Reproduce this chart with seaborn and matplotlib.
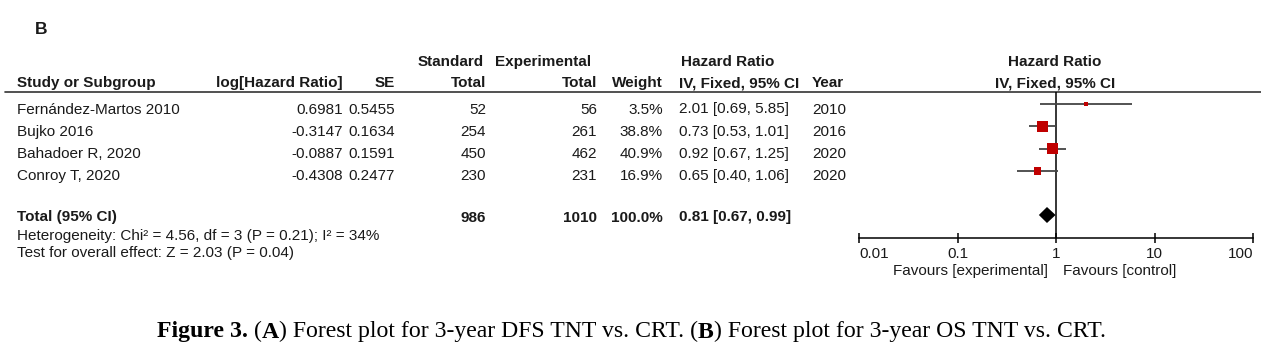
import matplotlib
matplotlib.use("Agg")
import matplotlib.pyplot as plt
from matplotlib.ticker import NullLocator, FixedLocator, FixedFormatter
import seaborn as sns
import pandas as pd

# ---------------- data ----------------
studies = ["Fernández-Martos 2010", "Bujko 2016", "Bahadoer R, 2020", "Conroy T, 2020"]
log_hr = [0.6981, -0.3147, -0.0887, -0.4308]
se = [0.5455, 0.1634, 0.1591, 0.2477]
std_total = [52, 254, 450, 230]
exp_total = [56, 261, 462, 231]
weight = [3.5, 38.8, 40.9, 16.9]
hr = [2.01, 0.73, 0.92, 0.65]
ci_lo = [0.69, 0.53, 0.67, 0.40]
ci_hi = [5.85, 1.01, 1.25, 1.06]
years = [2010, 2016, 2020, 2020]

total_std = 986
total_exp = 1010
total_weight = 100.0
total_hr = 0.81
total_lo = 0.67
total_hi = 0.99

heterogeneity = "Heterogeneity: Chi² = 4.56, df = 3 (P = 0.21); I² = 34%"
overall = "Test for overall effect: Z = 2.03 (P = 0.04)"
tick_vals = [0.01, 0.1, 1, 10, 100]
tick_labels = ["0.01", "0.1", "1", "10", "100"]
fav_left = "Favours [experimental]"
fav_right = "Favours [control]"
caption = [("Figure 3.", "bold"), (" (", "normal"), ("A", "bold"),
           (") Forest plot for 3-year DFS TNT vs. CRT. (", "normal"), ("B", "bold"),
           (") Forest plot for 3-year OS TNT vs. CRT.", "normal")]

# ---------------- layout ----------------
sns.set_theme(style="white")
plt.rcParams["font.family"] = ["Liberation Sans", "DejaVu Sans"]
W, H = 1261, 348
fig = plt.figure(figsize=(W / 100, H / 100), dpi=100)
fig.patch.set_facecolor("white")

TXT = "#1a1a1a"
FS = 11.0

ax_t = fig.add_axes([0, 0, 1, 1])
ax_t.set_xlim(0, W)
ax_t.set_ylim(H, 0)
ax_t.axis("off")

line_y = 92.3
axis_y = 238.3
row0, row_step = 104.0, 22.3
marker_rows = [row0 + i * row_step for i in range(len(studies))]
text_base = [r + 9.5 for r in marker_rows]
total_row = 215.0
total_base = 221.5


def t(x, y, s, ha="left", bold=False, size=FS, **kw):
    ax_t.text(x, y, s, ha=ha, va="baseline", fontsize=size, color=TXT,
              fontweight="bold" if bold else "normal", **kw)


# panel label
t(35, 34, "B", bold=True, size=12.5)

# headers
h1, h2 = 66, 87.3
t(17, h2, "Study or Subgroup", bold=True)
t(343, h2, "log[Hazard Ratio]", ha="right", bold=True)
t(395, h2, "SE", ha="right", bold=True)
t(484, h1, "Standard", ha="right", bold=True)
t(486, h2, "Total", ha="right", bold=True)
t(591, h1, "Experimental", ha="right", bold=True)
t(597, h2, "Total", ha="right", bold=True)
t(663, h2, "Weight", ha="right", bold=True)
t(728, h1, "Hazard Ratio", ha="center", bold=True)
t(679, h2, "IV, Fixed, 95% CI", bold=True)
t(812, h2, "Year", bold=True)
t(1055, h1, "Hazard Ratio", ha="center", bold=True)
t(1055, h2, "IV, Fixed, 95% CI", ha="center", bold=True)
ax_t.plot([5, W], [line_y, line_y], color="#333333", lw=1.2)

# study rows
for i, name in enumerate(studies):
    yb = text_base[i]
    t(17, yb, name)
    t(343, yb, f"{log_hr[i]:.4f}", ha="right")
    t(395, yb, f"{se[i]:.4f}", ha="right")
    t(486, yb, f"{std_total[i]}", ha="right")
    t(597, yb, f"{exp_total[i]}", ha="right")
    t(663, yb, f"{weight[i]:.1f}%", ha="right")
    t(679, yb, f"{hr[i]:.2f} [{ci_lo[i]:.2f}, {ci_hi[i]:.2f}]")
    t(812, yb, f"{years[i]}")

# total row
t(17, total_base, "Total (95% CI)", bold=True)
t(486, total_base, f"{total_std}", ha="right", bold=True)
t(597, total_base, f"{total_exp}", ha="right", bold=True)
t(663, total_base, f"{total_weight:.1f}%", ha="right", bold=True)
t(679, total_base, f"{total_hr:.2f} [{total_lo:.2f}, {total_hi:.2f}]", bold=True)
t(17, 240, heterogeneity)
t(17, 257.5, overall)

# favours labels
t(1048, 274.5, fav_left, ha="right")
t(1063, 274.5, fav_right)

# caption with mixed weights
prev = None
for s, wgt in caption:
    kw = dict(fontsize=17.1, color="black", fontweight=wgt,
              family=["Liberation Serif", "DejaVu Serif"], ha="left")
    if prev is None:
        prev = ax_t.text(157, 337.5, s, va="baseline", **kw)
    else:
        prev = ax_t.annotate(s, xy=(1, 0), xycoords=prev, va="bottom", **kw)

# ---------------- forest axes ----------------
x0, x1 = 859, 1253
ax = fig.add_axes([x0 / W, (H - axis_y) / H, (x1 - x0) / W, (axis_y - line_y) / H])
ax.set_facecolor("none")
ax.set_xscale("log")
ax.set_xlim(tick_vals[0], tick_vals[-1])
ax.set_ylim(axis_y, line_y)

df = pd.DataFrame({"hr": hr, "lo": ci_lo, "hi": ci_hi, "w": weight, "y": marker_rows})
ax.hlines(df["y"], df["lo"], df["hi"], color="#444444", lw=1.3, zorder=2)
sns.scatterplot(data=df, x="hr", y="y", size="w", sizes=(1.7 * min(weight), 1.7 * max(weight)),
                marker="s", color="#C00000", linewidth=0, legend=False, ax=ax, zorder=3)
ax.fill([total_lo, total_hr, total_hi, total_hr],
        [total_row, total_row - 8, total_row, total_row + 8], color="black", lw=0, zorder=3)
ax.axvline(1, color="black", lw=1.1, zorder=1)

for side in ["left", "right", "top"]:
    ax.spines[side].set_visible(False)
ax.spines["bottom"].set_color("black")
ax.spines["bottom"].set_linewidth(1.1)
ax.yaxis.set_visible(False)
ax.xaxis.set_major_locator(FixedLocator(tick_vals))
ax.xaxis.set_major_formatter(FixedFormatter(tick_labels))
ax.xaxis.set_minor_locator(NullLocator())
ax.tick_params(axis="x", which="major", direction="inout", length=7.2, width=1.1,
               color="black", labelsize=FS, labelcolor=TXT, pad=2.5, bottom=True)
ax.set_xlabel("")
ax.set_ylabel("")
labs = ax.get_xticklabels()
labs[0].set_ha("left")
labs[-1].set_ha("right")

fig.savefig("out.png", dpi=100, facecolor="white")
